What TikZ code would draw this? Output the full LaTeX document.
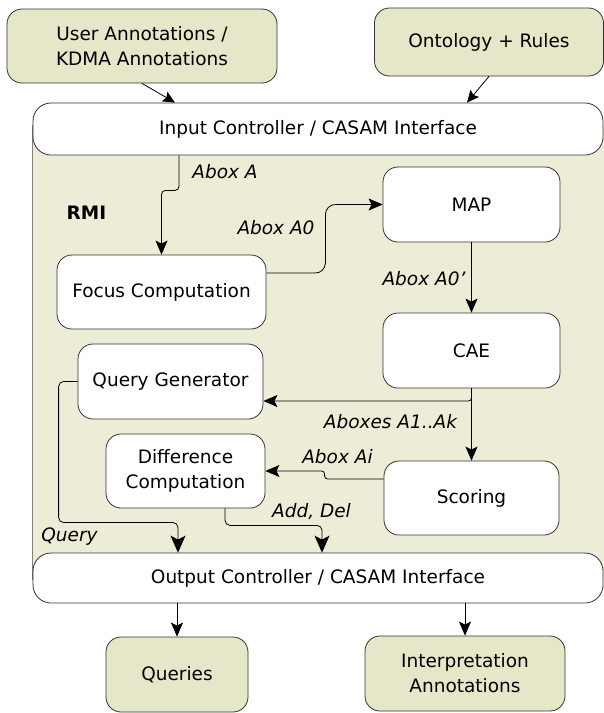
\documentclass[tikz,border=0pt]{standalone}
\usepackage{fontspec}
\setmainfont{DejaVu Sans}
\usetikzlibrary{arrows.meta}
\definecolor{outerfill}{HTML}{E6E6C9}
\definecolor{regionfill}{HTML}{ECECD7}
\definecolor{edgecol}{HTML}{333333}
\tikzset{
  txt/.style={font=\fontsize{18.5}{25}\selectfont},
  box/.style={txt, draw=edgecol, line width=0.8pt, rounded corners=15pt, align=center, inner sep=0pt},
  outerbox/.style={box, fill=outerfill},
  innerbox/.style={box, fill=white},
  ctrlbox/.style={box, fill=white, rounded corners=18pt},
  lbl/.style={txt, inner sep=0pt, font=\fontsize{18.5}{25}\selectfont\itshape},
  conn/.style={draw=black, line width=0.8pt},
  arr/.style={conn, -{Stealth[length=14pt,width=12pt,inset=3pt]}},
  bigarr/.style={conn, -{Stealth[length=17pt,width=15pt,inset=4pt]}},
  smallarr/.style={conn, -{Stealth[length=12pt,width=11pt,inset=2pt]}},
}
\begin{document}
\begin{tikzpicture}[x=1pt,y=-1pt]
\useasboundingbox (0,0) rectangle (604,713);
\fill[white] (0,0) rectangle (604,713);
% RMI region
\fill[regionfill] (32,125) rectangle (610,580);
\draw[gray, line width=1pt] (32,125) -- (32,580);

% outer boxes
\node[outerbox, minimum width=270pt, minimum height=74pt] (user) at (142,46) {User Annotations /\\KDMA Annotations};
\node[outerbox, minimum width=229pt, minimum height=68pt] (onto) at (489,42) {Ontology + Rules};
\node[outerbox, minimum width=142pt, minimum height=75pt] (queries) at (177,674.5) {Queries};
\node[outerbox, minimum width=200pt, minimum height=75pt] (interp) at (465,673.5) {Interpretation\\Annotations};

% controllers
\node[ctrlbox, minimum width=570pt, minimum height=52pt] (input) at (318,129) {Input Controller / CASAM Interface};
\node[ctrlbox, minimum width=570pt, minimum height=50pt] (output) at (318,578) {Output Controller / CASAM Interface};

% inner boxes
\node[innerbox, minimum width=209pt, minimum height=74pt] (focus) at (161.5,292) {Focus Computation};
\node[innerbox, minimum width=177pt, minimum height=75pt] (map) at (471.5,204.5) {MAP};
\node[innerbox, minimum width=177pt, minimum height=75pt] (cae) at (471.5,350.5) {CAE};
\node[innerbox, minimum width=185pt, minimum height=75pt] (qg) at (170.5,381.5) {Query Generator};
\node[innerbox, minimum width=159pt, minimum height=74pt] (diff) at (185.5,471) {Difference\\Computation};
\node[innerbox, minimum width=175pt, minimum height=74pt] (scoring) at (471.5,498) {Scoring};

% labels
\node[txt, inner sep=0pt, font=\fontsize{18.5}{25}\selectfont\bfseries] (rmi) at (86.5,213) {RMI};
\node[lbl] (lA) at (225,172) {Abox A};
\node[lbl] (lA0) at (276,228) {Abox A0};
\node[lbl] (lA0p) at (424,279) {Abox A0{\char39}};
\node[lbl] (lAk) at (390.5,422) {Aboxes A1..Ak};
\node[lbl] (lAi) at (337.5,457) {Abox Ai};
\node[lbl] (lAD) at (311.5,512) {Add, Del};
\node[lbl] (lQ) at (69.5,537) {Query};

% connectors
\draw[smallarr] (user.south) -- ([xshift=-143pt]input.north);
\draw[smallarr] (onto.south) -- ([xshift=149pt]input.north);
\draw[arr, rounded corners=4pt] ([xshift=-139pt]input.south) -- ++(0,35) -| (focus.north);
\draw[arr, rounded corners=10pt] ([yshift=19pt]focus.east) -- ++(59,0) |- (map.west);
\draw[arr] (map.south) -- (cae.north);
\draw[arr, rounded corners=3pt] (cae.south) |- ([yshift=-19.5pt]qg.east);
\draw[arr] (cae.south) -- (scoring.north);
\draw[arr, rounded corners=3pt] ([yshift=19pt]scoring.west) -- ++(-59,0) |- (diff.east);
\draw[bigarr, rounded corners=5pt] (qg.west) -- ++(-19,0) -- ++(0,141) -| ([xshift=-140pt]output.north);
\draw[bigarr, rounded corners=5pt] ([xshift=39.5pt]diff.south) -- ++(0,17) -| ([xshift=4pt]output.north);
\draw[arr] (queries.north |- output.south) -- (queries.north);
\draw[arr] (interp.north |- output.south) -- (interp.north);
\end{tikzpicture}
\end{document}
